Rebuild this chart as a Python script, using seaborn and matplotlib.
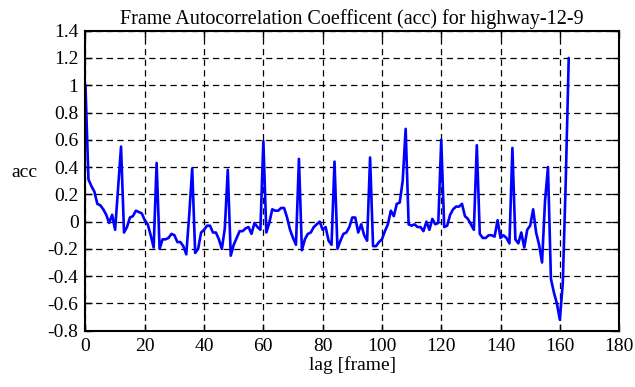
import numpy as np
import pandas as pd
import matplotlib
matplotlib.use('Agg')
import matplotlib.pyplot as plt
import seaborn as sns

# Autocorrelation values, one per lag (0..163)
acc = [
    1.00, 0.31, 0.26, 0.22, 0.13, 0.12, 0.09, 0.05, -0.01, 0.05,
    -0.06, 0.25, 0.55, -0.08, -0.04, 0.03, 0.04, 0.08, 0.07, 0.06,
    0.01, -0.02, -0.10, -0.19, 0.43, -0.20, -0.13, -0.13, -0.12, -0.09,
    -0.10, -0.15, -0.15, -0.18, -0.24, 0.05, 0.39, -0.23, -0.20, -0.08,
    -0.06, -0.03, -0.03, -0.08, -0.08, -0.13, -0.20, -0.05, 0.38, -0.25,
    -0.17, -0.12, -0.07, -0.07, -0.05, -0.04, -0.09, -0.01, -0.04, -0.06,
    0.59, -0.08, -0.01, 0.09, 0.08, 0.08, 0.10, 0.10, 0.03, -0.06,
    -0.12, -0.17, 0.46, -0.21, -0.13, -0.09, -0.08, -0.04, -0.02, 0.00,
    -0.06, -0.04, -0.14, -0.17, 0.44, -0.20, -0.14, -0.09, -0.08, -0.04,
    0.03, 0.03, -0.08, -0.02, -0.10, -0.14, 0.47, -0.18, -0.18, -0.15,
    -0.13, -0.07, -0.02, 0.08, 0.04, 0.13, 0.14, 0.30, 0.68, -0.02,
    -0.03, -0.02, -0.04, -0.04, -0.07, 0.00, -0.06, 0.02, -0.02, -0.01,
    0.60, -0.04, -0.03, 0.05, 0.09, 0.11, 0.11, 0.13, 0.04, 0.02,
    -0.02, -0.06, 0.56, -0.09, -0.12, -0.12, -0.10, -0.10, -0.11, 0.01,
    -0.12, -0.10, -0.12, -0.16, 0.54, -0.13, -0.16, -0.08, -0.19, -0.06,
    -0.03, 0.09, -0.08, -0.17, -0.30, 0.15, 0.40, -0.42, -0.52, -0.60,
    -0.72, -0.45, 0.30, 1.20,
]
lags = list(range(len(acc)))

x_ticks = [0, 20, 40, 60, 80, 100, 120, 140, 160, 180]
y_ticks = [-0.8, -0.6, -0.4, -0.2, 0, 0.2, 0.4, 0.6, 0.8, 1, 1.2, 1.4]
y_labels = ['-0.8', '-0.6', '-0.4', '-0.2', '0', '0.2', '0.4', '0.6', '0.8', '1', '1.2', '1.4']

df = pd.DataFrame({'lag': lags, 'acc': acc})

sns.set_style('ticks')
plt.rcParams['font.family'] = ['Liberation Serif', 'DejaVu Serif']
plt.rcParams['text.color'] = 'black'
plt.rcParams['axes.labelcolor'] = 'black'

fig = plt.figure(figsize=(6.35, 3.87), dpi=100)
ax = fig.add_axes([0.1346, 0.1455, 0.8404, 0.7752])

sns.lineplot(data=df, x='lag', y='acc', color='#0000ff', linewidth=1.9, ax=ax)

ax.set_xlim(0, 180)
ax.set_ylim(-0.8, 1.4)
ax.set_xticks(x_ticks)
ax.set_xticklabels([str(t) for t in x_ticks])
ax.set_yticks(y_ticks)
ax.set_yticklabels(y_labels)

ax.grid(True, color='black', linestyle=(0, (5, 3.5)), linewidth=0.9)
ax.tick_params(direction='in', length=5, width=1, top=True, right=True,
               labelsize=14, colors='black', pad=5)
for s in ax.spines.values():
    s.set_linewidth(1.5)
    s.set_color('black')

ax.set_title('Frame Autocorrelation Coefficent (acc) for highway-12-9',
             fontsize=14.5, pad=5, color='black')
ax.set_xlabel('lag [frame]', fontsize=14, labelpad=1, color='black')
ax.set_ylabel('acc', fontsize=14, rotation=0, labelpad=0, color='black')
ax.yaxis.set_label_coords(-0.115, 0.5)

fig.savefig('out.png', dpi=100)
